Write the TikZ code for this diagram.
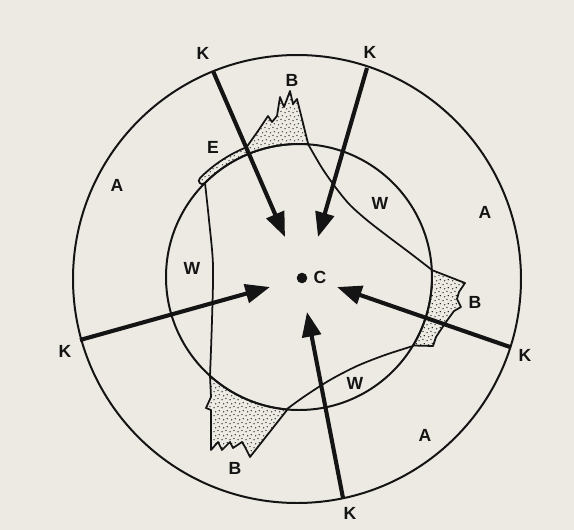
\documentclass[tikz,border=0pt]{standalone}
\usepackage{fontspec}
\setsansfont{Liberation Sans}
\usetikzlibrary{arrows.meta, calc, patterns}
\definecolor{paperbg}{HTML}{EDEAE3}
\definecolor{inkdark}{HTML}{141414}
\pgfdeclarepatternformonly{stipple}{\pgfqpoint{0pt}{0pt}}{\pgfqpoint{7pt}{7pt}}{\pgfqpoint{7pt}{7pt}}{%
    \pgfpathcircle{\pgfqpoint{1pt}{1.2pt}}{0.6pt}
    \pgfpathcircle{\pgfqpoint{4.6pt}{2.4pt}}{0.6pt}
    \pgfpathcircle{\pgfqpoint{2.5pt}{4.8pt}}{0.6pt}
    \pgfpathcircle{\pgfqpoint{5.8pt}{5.9pt}}{0.6pt}
    \pgfusepath{fill}}

\begin{document}
\begin{tikzpicture}[x=0.03cm, y=-0.03cm,
    ring/.style={inkdark, line width=1.7pt},
    border/.style={inkdark, line width=1.5pt},
    zone/.style={draw=inkdark, line width=1.5pt, line join=round, pattern=stipple, pattern color=inkdark},
    thrust/.style={inkdark, line width=3.5pt, -{Triangle[length=21pt, width=16pt]}},
    lbl/.style={font=\sffamily\bfseries\fontsize{15}{17}\selectfont, text=inkdark, inner sep=0pt}]
    % Paper
    \fill[paperbg] (0,0) rectangle (574,530);
    \useasboundingbox (0,0) rectangle (574,530);

    % Rings
    \coordinate (co) at (297,279);
    \coordinate (ci) at (299,277);
    \draw[ring] (co) circle[radius=224];
    \draw[ring] (ci) circle[radius=133];

    % Top zone (B) with band (E)
    \draw[zone] ($(ci)+(-135:133)$) arc[start angle=-135, end angle=-86, radius=133]
        -- (297,99) -- (293,104) -- (290,91) -- (284,107) -- (280,97) -- (277,116)
        -- (272,122) -- (268,116) -- (258,131) -- ($(ci)+(-112:140)$)
        arc[start angle=-112, end angle=-135, radius=140]
        .. controls +(135:5) and +(135:5) .. ($(ci)+(-135:133)$) -- cycle;

    % Right zone (B)
    \draw[zone] ($(ci)+(-3:133)$) -- (465,283) -- (459,292) -- (457,299) -- (461,307)
        -- (454,311) -- (446,322) -- (436,337) -- (433,346) -- ($(ci)+(31:133)$)
        arc[start angle=31, end angle=-3, radius=133] -- cycle;

    % Bottom zone (B)
    \draw[zone] ($(ci)+(132:133)$) arc[start angle=132, end angle=95, radius=133]
        -- (250,457) -- (245,447) -- (242,442) -- (233,448) -- (230,442) -- (222,450)
        -- (218,442) -- (211,450) -- (211,410) -- (206,408) -- (211,397) -- cycle;

    % Boundaries
    \draw[border] plot[smooth] coordinates {(205,183) (209,220) (213,265) (212,320) (210,376)};
    \draw[border] plot[smooth] coordinates {(308,144) (322,168) (336,188) (350,205) (368,221) (390,238) (410,253) (432,270)};
    \draw[border] plot[smooth] coordinates {(287,409) (305,396) (330,380) (357,366) (385,355) (413,346)};

    % Thrusts towards the centre
    \coordinate (kTLs) at (213,71);  \coordinate (kTLt) at (285,237);
    \coordinate (kTRs) at (367,68);  \coordinate (kTRt) at (318,237);
    \coordinate (kLs)  at (80,340);  \coordinate (kLt)  at (270,287);
    \coordinate (kRs)  at (510,347); \coordinate (kRt)  at (337,287);
    \coordinate (kBs)  at (343,498); \coordinate (kBt)  at (307,312);
    \draw[thrust] (kTLs) -- (kTLt);
    \draw[thrust] (kTRs) -- (kTRt);
    \draw[thrust] (kLs) -- (kLt);
    \draw[thrust] (kRs) -- (kRt);
    \draw[thrust] (kBs) -- (kBt);

    % Centre
    \node[circle, fill=inkdark, inner sep=0pt, minimum size=9pt] (ctr) at (302,278) {};
    \node[lbl] (cLbl) at (320,277) {C};

    % Labels
    \node[lbl] (kTL) at (203,53) {K};
    \node[lbl] (kTR) at (370,52) {K};
    \node[lbl] (kL)  at (65,351) {K};
    \node[lbl] (kR)  at (525,355) {K};
    \node[lbl] (kB)  at (350,513) {K};
    \node[lbl] (aL)  at (117,185) {A};
    \node[lbl] (aR)  at (485,212) {A};
    \node[lbl] (aB)  at (425,435) {A};
    \node[lbl] (wL)  at (192,268) {W};
    \node[lbl] (wR)  at (380,203) {W};
    \node[lbl] (wB)  at (355,383) {W};
    \node[lbl] (bT)  at (292,80) {B};
    \node[lbl] (bR)  at (475,302) {B};
    \node[lbl] (bB)  at (235,468) {B};
    \node[lbl] (eL)  at (213,147) {E};
\end{tikzpicture}
\end{document}
